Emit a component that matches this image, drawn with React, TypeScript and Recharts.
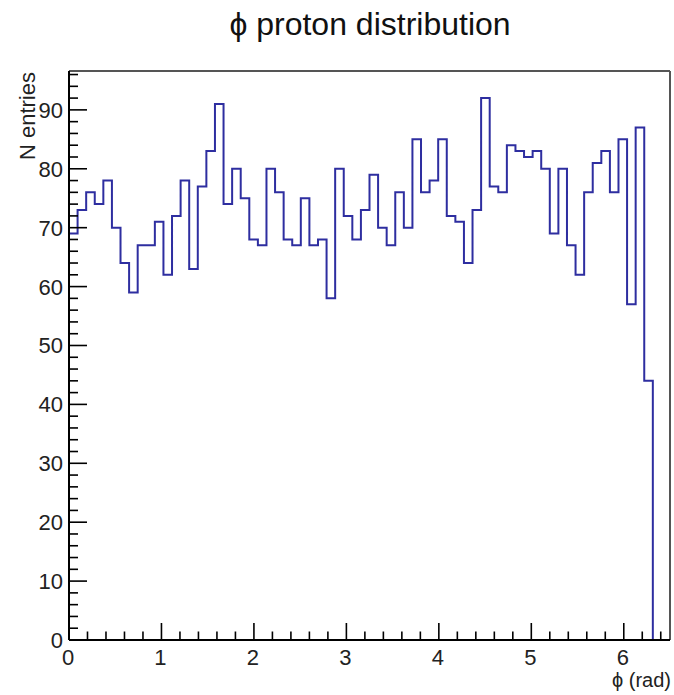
import React from 'react';
import { LineChart, Line, XAxis, YAxis, ReferenceLine } from 'recharts';

// phi of the protons: 70 bins on [0, 6.5], only the first 68 get filled (phi < 2pi)
const X_MIN = 0;
const X_MAX = 6.5;
const N_BINS = 70;
const Y_MAX = 96.6; // 1.05 * highest bin, like ROOT does

const counts = [
  69, 73, 76, 74, 78, 70, 64, 59, 67, 67,
  71, 62, 72, 78, 63, 77, 83, 91, 74, 80,
  75, 68, 67, 80, 76, 68, 67, 75, 67, 68,
  58, 80, 72, 68, 73, 79, 70, 67, 76, 70,
  85, 76, 78, 85, 72, 71, 64, 73, 92, 77,
  76, 84, 83, 82, 83, 80, 69, 80, 67, 62,
  76, 81, 83, 76, 85, 57, 87, 44, 0, 0,
];

const xMajor = [0, 1, 2, 3, 4, 5, 6];
const xMinorStep = 0.2;
const yMajor = [0, 10, 20, 30, 40, 50, 60, 70, 80, 90];
const yMinorStep = 2;

const TITLE = 'ϕ proton distribution';
const X_TITLE = 'ϕ (rad)';
const Y_TITLE = 'N entries';

const FONT = "'Liberation Sans', Arial, Helvetica, sans-serif";
const LINE_COLOR = '#2e2ea0';

// step line needs the left edge of each bin, plus the closing edge
const binWidth = (X_MAX - X_MIN) / N_BINS;
const data = counts
  .map((n, i) => ({ x: X_MIN + i * binWidth, n }))
  .concat([{ x: X_MAX, n: 0 }]);

const xTicks = Array.from({ length: Math.floor(X_MAX / xMinorStep) + 1 }, (_, i) =>
  +(i * xMinorStep).toFixed(1)
);
const yTicks = Array.from({ length: Math.floor(Y_MAX / yMinorStep) + 1 }, (_, i) => i * yMinorStep);

const isMajor = (v: number, majors: number[]) => majors.some(m => Math.abs(m - v) < 1e-6);

// ROOT style: ticks point into the frame, labels only on the major ones
const XTick = ({ x, y, payload }: any) => {
  const major = isMajor(payload.value, xMajor);
  return (
    <g>
      <line x1={x} x2={x} y1={y} y2={y - (major ? 17 : 8.5)} stroke="#000" strokeWidth={1.6} />
      {major && (
        <text x={x - 1} y={y + 24.5} textAnchor="middle" fontSize={22} fontFamily={FONT} fill="#222">
          {Math.round(payload.value)}
        </text>
      )}
    </g>
  );
};

const YTick = ({ x, y, payload }: any) => {
  const major = isMajor(payload.value, yMajor);
  return (
    <g>
      <line x1={x} x2={x + (major ? 18 : 9)} y1={y} y2={y} stroke="#000" strokeWidth={1.6} />
      {major && (
        <text x={x - 6} y={y + 8} textAnchor="end" fontSize={22} fontFamily={FONT} fill="#222">
          {payload.value}
        </text>
      )}
    </g>
  );
};

const XTitle = ({ viewBox }: any) => (
  <text
    x={viewBox.x + viewBox.width + 1}
    y={viewBox.y + 47}
    textAnchor="end"
    fontSize={20}
    fontFamily={FONT}
    fill="#222"
  >
    {X_TITLE}
  </text>
);

const YTitle = ({ viewBox }: any) => {
  const bx = 35;
  const by = viewBox.y + 1;
  return (
    <text
      x={bx}
      y={by}
      transform={`rotate(-90, ${bx}, ${by})`}
      textAnchor="end"
      fontSize={22}
      fontFamily={FONT}
      fill="#222"
    >
      {Y_TITLE}
    </text>
  );
};

export default function App() {
  return (
    <div style={{ position: 'absolute', left: 0, top: 0, width: 674, height: 695, background: '#fff' }}>
      <svg width={674} height={50} style={{ position: 'absolute', left: 0, top: 0 }}>
        <text x={370} y={35} textAnchor="middle" fontSize={32} fontFamily={FONT} fill="#111">
          {TITLE}
        </text>
      </svg>
      <div style={{ position: 'absolute', left: 0, top: 0 }}>
        <LineChart width={674} height={695} data={data} margin={{ top: 71, right: 4, bottom: 0, left: 0 }}>
          <XAxis
            dataKey="x"
            type="number"
            domain={[X_MIN, X_MAX]}
            ticks={xTicks}
            interval={0}
            height={55}
            tickSize={0}
            tickMargin={0}
            tickLine={false}
            tick={<XTick />}
            axisLine={{ stroke: '#000', strokeWidth: 2 }}
            label={<XTitle />}
          />
          <YAxis
            type="number"
            domain={[0, Y_MAX]}
            ticks={yTicks}
            interval={0}
            width={69}
            tickSize={0}
            tickMargin={0}
            tickLine={false}
            tick={<YTick />}
            axisLine={{ stroke: '#000', strokeWidth: 2 }}
            label={<YTitle />}
          />
          <ReferenceLine y={Y_MAX} stroke="#555" strokeWidth={2} />
          <ReferenceLine x={X_MAX} stroke="#555" strokeWidth={2} />
          <Line
            type="stepAfter"
            dataKey="n"
            stroke={LINE_COLOR}
            strokeWidth={2}
            dot={false}
            activeDot={false}
            isAnimationActive={false}
          />
        </LineChart>
      </div>
    </div>
  );
}
